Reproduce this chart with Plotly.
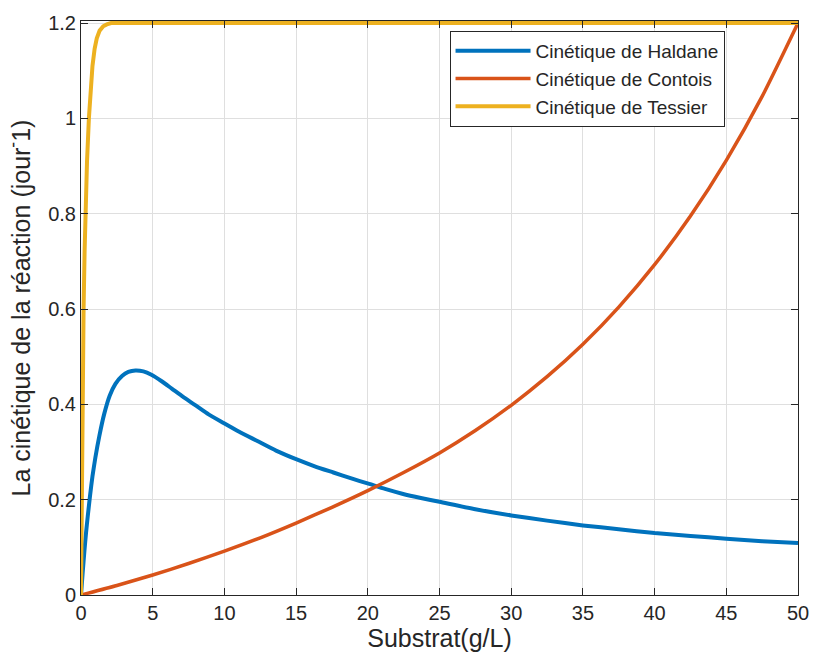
import plotly.graph_objects as go

# Substrate concentration (g/L) and reaction rates (jour^-1) for each kinetic model
haldane_s = [0, 0.12, 0.24, 0.35, 0.47, 0.63, 0.8, 1.0, 1.28, 1.62, 2.0, 2.4, 2.88, 3.3,
             3.8, 4.35, 4.91, 5.6, 6.33, 7.1, 7.94, 8.9, 9.94, 11.0, 12.3, 13.6, 15.0,
             16.3, 17.6, 18.8, 20.1, 21.2, 22.4, 23.7, 25.0, 27.5, 30.0, 32.5, 35.0,
             37.5, 40.0, 42.5, 45.0, 47.5, 50.0]
haldane_mu = [0, 0.048, 0.093, 0.130, 0.165, 0.208, 0.249, 0.288, 0.334, 0.380, 0.418,
              0.443, 0.460, 0.468, 0.471, 0.469, 0.462, 0.449, 0.433, 0.416, 0.399,
              0.379, 0.361, 0.343, 0.323, 0.303, 0.285, 0.270, 0.257, 0.245, 0.233,
              0.2225, 0.2125, 0.2035, 0.1955, 0.180, 0.167, 0.156, 0.146, 0.138, 0.130,
              0.124, 0.118, 0.113, 0.109]

contois_s = [0, 2.5, 5, 7.5, 10, 12.5, 15, 17.5, 20, 22.5, 25, 27.5, 30, 32.5, 35,
             37.5, 40, 42.5, 45, 47.5, 50]
contois_mu = [0, 0.020, 0.042, 0.066, 0.092, 0.120, 0.151, 0.184, 0.219, 0.257, 0.298,
              0.345, 0.398, 0.458, 0.526, 0.604, 0.693, 0.795, 0.912, 1.046, 1.2]

tessier_s = [0, 0.03, 0.07, 0.12, 0.18, 0.25, 0.33, 0.42, 0.55, 0.68, 0.8, 0.95, 1.1,
             1.3, 1.55, 1.8, 2.1, 50]
tessier_mu = [0, 0.13, 0.29, 0.45, 0.6, 0.72, 0.82, 0.91, 1.0, 1.07, 1.11, 1.146, 1.168,
              1.184, 1.193, 1.197, 1.2, 1.2]

x_ticks = [0, 5, 10, 15, 20, 25, 30, 35, 40, 45, 50]
y_ticks = [0, 0.2, 0.4, 0.6, 0.8, 1.0, 1.2]
y_ticktext = ["0", "0.2", "0.4", "0.6", "0.8", "1", "1.2"]

FONT = "Liberation Sans, Arial, Helvetica, sans-serif"
INK = "#262626"

fig = go.Figure()
fig.add_trace(go.Scatter(
    x=haldane_s, y=haldane_mu, mode="lines", name="Cinétique de Haldane",
    line=dict(color="#0072BD", width=4, shape="spline", smoothing=0.6)))
fig.add_trace(go.Scatter(
    x=contois_s, y=contois_mu, mode="lines", name="Cinétique de Contois",
    line=dict(color="#D95319", width=3.5, shape="spline", smoothing=0.6)))
fig.add_trace(go.Scatter(
    x=tessier_s, y=tessier_mu, mode="lines", name="Cinétique de Tessier",
    line=dict(color="#EDB120", width=4)))

axis_common = dict(
    ticks="inside", ticklen=7, tickwidth=1, tickcolor=INK,
    showline=True, linecolor=INK, linewidth=1, mirror="ticks",
    showgrid=True, gridcolor="#DFDFDF", gridwidth=1, zeroline=False,
    tickfont=dict(family=FONT, size=20, color=INK),
)

fig.update_layout(
    width=821, height=661,
    margin=dict(l=81, r=14, t=20, b=66),
    paper_bgcolor="white", plot_bgcolor="white",
    font=dict(family=FONT, color=INK),
    xaxis=dict(
        range=[0, 50], tickvals=x_ticks,
        title=dict(text="Substrat(g/L)", font=dict(family=FONT, size=25, color=INK),
                   standoff=6),
        **axis_common),
    yaxis=dict(
        range=[0, 1.2042], tickvals=y_ticks, ticktext=y_ticktext,
        title=dict(text="La cinétique de la réaction (jour<sup>-</sup>1)",
                   font=dict(family=FONT, size=25, color=INK), standoff=10),
        **axis_common),
    legend=dict(
        x=0.514, y=0.899, xanchor="left", yanchor="middle",
        bgcolor="white", bordercolor=INK, borderwidth=1,
        font=dict(family=FONT, size=19, color=INK),
        itemwidth=75, tracegroupgap=0,
    ),
    showlegend=True,
)

fig.write_html("out.html")
